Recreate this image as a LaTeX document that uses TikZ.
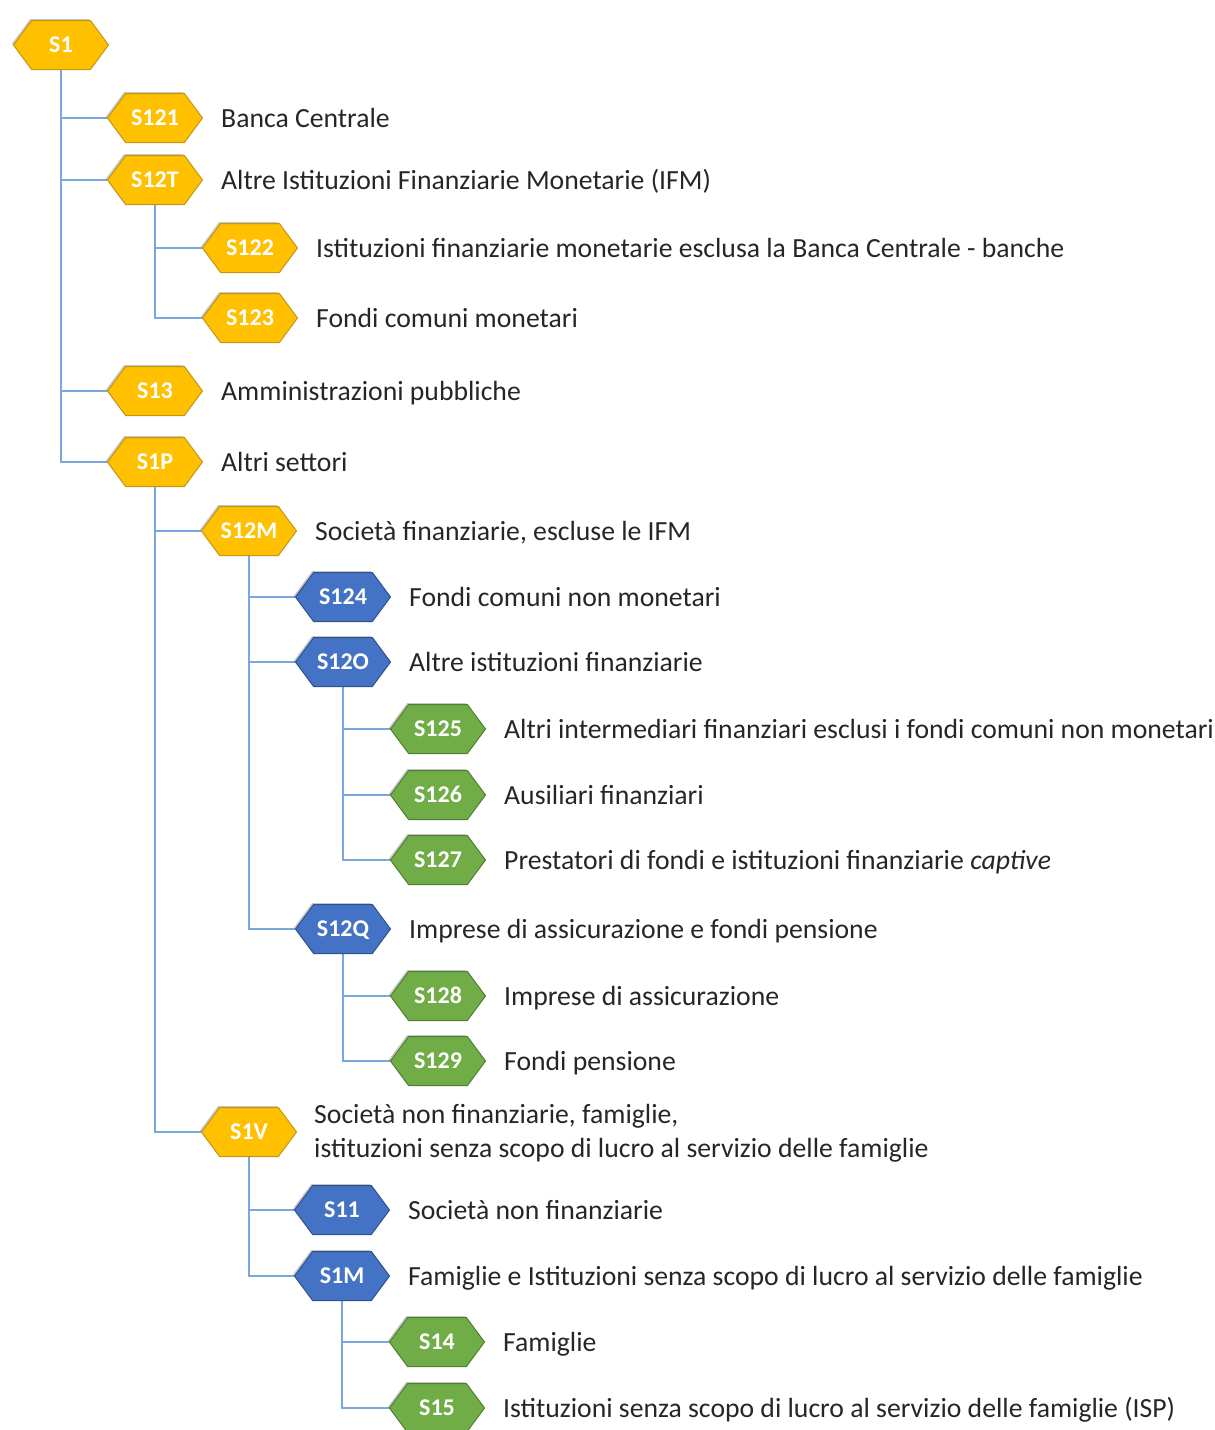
\documentclass[tikz,border=0pt]{standalone}
\usepackage{fontspec}
\setmainfont{Carlito}
\usetikzlibrary{shapes.symbols,shadows,backgrounds}
\definecolor{gold}{RGB}{255,192,0}
\definecolor{goldb}{RGB}{196,150,20}
\definecolor{blu}{RGB}{68,114,196}
\definecolor{blub}{RGB}{47,82,143}
\definecolor{grn}{RGB}{112,173,71}
\definecolor{grnb}{RGB}{80,126,50}
\definecolor{conn}{RGB}{120,168,222}
\tikzset{
  hexa/.style={signal, signal to=west and east, signal pointer angle=107,
    minimum width=95pt, minimum height=49pt, inner sep=0pt,
    text height=15.5pt, text depth=0pt, text=white,
    font=\fontsize{24}{26}\selectfont\bfseries, line width=1pt,
    drop shadow={shadow xshift=-1.5pt, shadow yshift=1.5pt, opacity=0.22, fill=black}},
  goldhex/.style={hexa, fill=gold, draw=goldb},
  bluhex/.style={hexa, fill=blu, draw=blub},
  grnhex/.style={hexa, fill=grn, draw=grnb},
  lbl/.style={anchor=base west, inner sep=0pt, font=\fontsize{27.7}{34}\selectfont, text=black!85},
  link/.style={draw=conn, line width=1.4pt}
}
\newcommand{\hx}[6]{%
  \node[#2] (#1) at (#3,#4) {#5};
  \node[lbl] (#1t) at (#3+66,#4+9.5) {#6};}
\begin{document}
\begin{tikzpicture}[x=1pt,y=-1pt]
\useasboundingbox (0,0) rectangle (1215,1430);
\node[goldhex] (S1) at (61,45) {S1};
\hx{S121}{goldhex}{155}{118}{S121}{Banca Centrale}
\hx{S12T}{goldhex}{155}{180}{S12T}{Altre Istituzioni Finanziarie Monetarie (IFM)}
\hx{S122}{goldhex}{250}{248}{S122}{Istituzioni finanziarie monetarie esclusa la Banca Centrale - banche}
\hx{S123}{goldhex}{250}{318}{S123}{Fondi comuni monetari}
\hx{S13}{goldhex}{155}{391}{S13}{Amministrazioni pubbliche}
\hx{S1P}{goldhex}{155}{462}{S1P}{Altri settori}
\hx{S12M}{goldhex}{249}{531}{S12M}{Società finanziarie, escluse le IFM}
\hx{S124}{bluhex}{343}{597}{S124}{Fondi comuni non monetari}
\hx{S12O}{bluhex}{343}{662}{S12O}{Altre istituzioni finanziarie}
\hx{S125}{grnhex}{438}{729}{S125}{Altri intermediari finanziari esclusi i fondi comuni non monetari}
\hx{S126}{grnhex}{438}{795}{S126}{Ausiliari finanziari}
\hx{S127}{grnhex}{438}{860}{S127}{Prestatori di fondi e istituzioni finanziarie \textit{captive}}
\hx{S12Q}{bluhex}{343}{929}{S12Q}{Imprese di assicurazione e fondi pensione}
\hx{S128}{grnhex}{438}{996}{S128}{Imprese di assicurazione}
\hx{S129}{grnhex}{438}{1061}{S129}{Fondi pensione}
\node[goldhex] (S1V) at (249,1132) {S1V};
\node[lbl, anchor=west, align=left] (S1Vt) at (314,1133) {Società non finanziarie, famiglie,\\istituzioni senza scopo di lucro al servizio delle famiglie};
\hx{S11}{bluhex}{342}{1210}{S11}{Società non finanziarie}
\hx{S1M}{bluhex}{342}{1276}{S1M}{Famiglie e Istituzioni senza scopo di lucro al servizio delle famiglie}
\hx{S14}{grnhex}{437}{1342}{S14}{Famiglie}
\hx{S15}{grnhex}{437}{1408}{S15}{Istituzioni senza scopo di lucro al servizio delle famiglie (ISP)}
\begin{scope}[on background layer]
\foreach \p/\c in {S1/S121,S1/S12T,S1/S13,S1/S1P,S12T/S122,S12T/S123,S1P/S12M,S1P/S1V,
  S12M/S124,S12M/S12O,S12M/S12Q,S12O/S125,S12O/S126,S12O/S127,S12Q/S128,S12Q/S129,
  S1V/S11,S1V/S1M,S1M/S14,S1M/S15}
  \draw[link] (\p.south) |- (\c.west);
\end{scope}
\end{tikzpicture}
\end{document}
